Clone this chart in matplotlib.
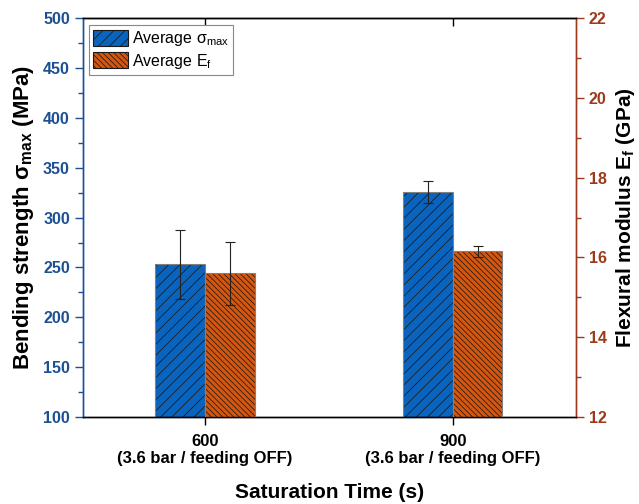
import matplotlib
matplotlib.use("Agg")
import matplotlib.pyplot as plt
import numpy as np

plt.rcParams['font.family'] = ['Liberation Sans', 'DejaVu Sans']
plt.rcParams['mathtext.fontset'] = 'custom'
plt.rcParams['mathtext.rm'] = 'Liberation Sans'
plt.rcParams['mathtext.bf'] = 'Liberation Sans:bold'
plt.rcParams['mathtext.it'] = 'Liberation Sans:italic'
plt.rcParams['hatch.linewidth'] = 0.55

categories = ["600\n(3.6 bar / feeding OFF)", "900\n(3.6 bar / feeding OFF)"]
sigma_max = [253, 326]
sigma_err = [35, 11]
E_f = [15.6, 16.15]
E_err = [0.78, 0.14]

blue = '#0A64BE'
orange = '#D4560F'
left_col = '#1C4F93'
right_col = '#9E3A1C'

fig = plt.figure(figsize=(6.39, 5.04), dpi=100)
ax1 = fig.add_axes([0.130, 0.1726, 0.771, 0.7914])
ax2 = ax1.twinx()

x = np.arange(len(categories))
w = 0.2
hb = '///'
ho = '\\' * 6

# blue bars (left axis)
ax1.bar(x - w/2, sigma_max, w, color=blue, edgecolor='#1a1a1a', linewidth=0, hatch=hb, zorder=2)
ax1.bar(x - w/2, sigma_max, w, fill=False, edgecolor='#808080', linewidth=0.8, zorder=3)
ax1.errorbar(x - w/2, sigma_max, yerr=sigma_err, fmt='none', ecolor='#222222', elinewidth=0.8, capsize=3.5, capthick=0.8, zorder=4)

# orange bars (right axis)
ax2.bar(x + w/2, E_f, w, color=orange, edgecolor='#1a1a1a', linewidth=0, hatch=ho, zorder=2)
ax2.bar(x + w/2, E_f, w, fill=False, edgecolor='#808080', linewidth=0.8, zorder=3)
ax2.errorbar(x + w/2, E_f, yerr=E_err, fmt='none', ecolor='#222222', elinewidth=0.8, capsize=3.5, capthick=0.8, zorder=4)

ax1.set_xlim(-0.492, 1.496)
ax1.set_ylim(100, 500)
ax2.set_ylim(12, 22)

ax1.set_xticks(x)
ax1.set_xticklabels(categories, fontsize=12, fontweight='bold')
ax1.tick_params(axis='x', direction='out', length=6, width=1, pad=6)
top = ax1.secondary_xaxis('top')
top.set_xticks(x)
top.set_xticklabels([])
top.tick_params(direction='in', length=6, width=1)

ax1.set_yticks(np.arange(100, 501, 50))
ax1.set_yticks(np.arange(125, 500, 50), minor=True)
ax1.tick_params(axis='y', which='major', direction='out', length=6, width=1, colors=left_col, labelsize=11.5)
ax1.tick_params(axis='y', which='minor', direction='out', length=3.5, width=1, colors=left_col)
for lab in ax1.get_yticklabels():
    lab.set_fontweight('bold')

ax2.set_yticks(np.arange(12, 23, 2))
ax2.set_yticks(np.arange(13, 22, 2), minor=True)
ax2.tick_params(axis='y', which='major', direction='out', length=6, width=1, colors=right_col, labelsize=11.5)
ax2.tick_params(axis='y', which='minor', direction='out', length=3.5, width=1, colors=right_col)
for lab in ax2.get_yticklabels():
    lab.set_fontweight('bold')

for ax in (ax1, ax2):
    ax.spines['left'].set_color(left_col)
    ax.spines['right'].set_color(right_col)
    ax.spines['top'].set_color('black')
    ax.spines['bottom'].set_color('black')
    for s in ax.spines.values():
        s.set_linewidth(1.0)
top.spines['top'].set_color('black')

ax1.set_ylabel('Bending strength σ$_{\\mathbf{max}}$ (MPa)', fontsize=16, fontweight='bold', color='black', labelpad=5)
ax2.set_ylabel('Flexural modulus E$_{\\mathbf{f}}$ (GPa)', fontsize=15, fontweight='bold', color='black', labelpad=5)
ax1.set_xlabel('Saturation Time (s)', fontsize=15, fontweight='bold', labelpad=12)

from matplotlib.patches import Patch
h1 = Patch(facecolor=blue, edgecolor='#1a1a1a', hatch=hb, linewidth=0.8, label='Average σ$_{\\mathrm{max}}$')
h2 = Patch(facecolor=orange, edgecolor='#1a1a1a', hatch=ho, linewidth=0.8, label='Average E$_{\\mathrm{f}}$')
leg = ax2.legend(handles=[h1, h2], loc='upper left', bbox_to_anchor=(0.005, 0.99), fontsize=11.5,
                 frameon=True, fancybox=False, edgecolor='#888888', framealpha=1,
                 handlelength=2.2, handleheight=1.2, borderpad=0.25, labelspacing=0.2, handletextpad=0.25, borderaxespad=0.2)
leg.get_frame().set_linewidth(0.8)

fig.savefig('out.png', dpi=100)
